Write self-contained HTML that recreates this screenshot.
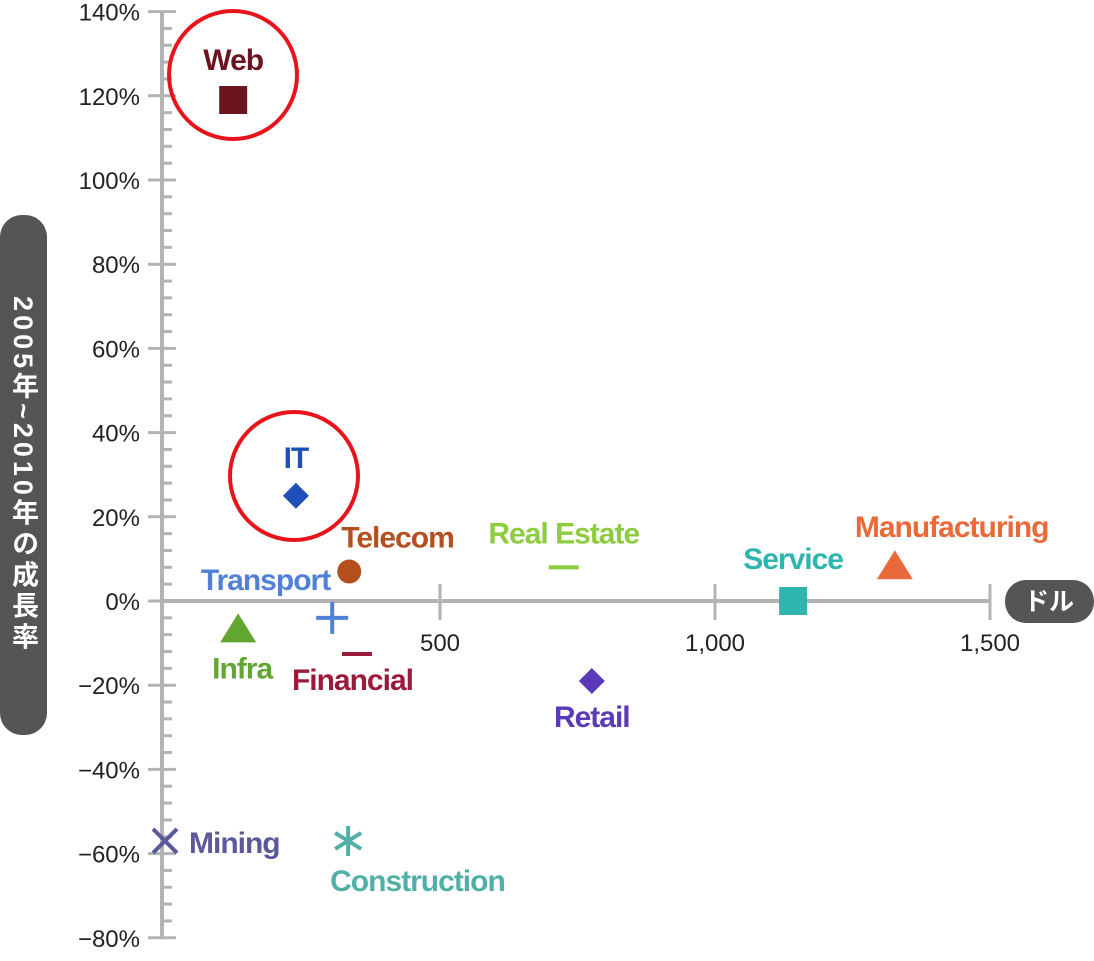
<!DOCTYPE html>
<html><head><meta charset="utf-8"><style>
body{margin:0;background:#fff;}
svg{display:block;font-family:"Liberation Sans","Noto Sans CJK JP",sans-serif;}
</style></head><body>
<svg id="c" width="1094" height="961" viewBox="0 0 1094 961">
<g id="axes"></g>
<g id="marks"></g>
<rect x="0" y="215" width="47" height="520" rx="22" fill="#555"/>
<text x="23" y="475" fill="#fff" font-size="27" font-weight="bold" text-anchor="middle" dominant-baseline="central" writing-mode="tb" letter-spacing="4">2005年~2010年の成長率</text>
<rect x="1005" y="580" width="89" height="43" rx="21" fill="#555"/>
<text x="1049" y="610" fill="#fff" font-size="25" font-weight="bold" text-anchor="middle">ドル</text>
</svg>
<script>
const names=["Web","IT","Telecom","Transport","Financial","Infra","Real Estate","Retail","Service","Manufacturing","Mining","Construction"];
const xs=[124,238,335,304,349,133,725,776,1142,1327,0,333];
const ys=[119,25,7,-4,-12.6,-6.5,8,-19,0,8.5,-57,-57];
const xTicks=[500,1000,1500];
const xTickLabels=["500","1,000","1,500"];
const yTicks=[140,120,100,80,60,40,20,0,-20,-40,-60,-80];
const yTickLabels=["140%","120%","100%","80%","60%","40%","20%","0%","−20%","−40%","−60%","−80%"];
const NS="http://www.w3.org/2000/svg";
const X=v=>165+v*0.55, Y=v=>601-v*4.21;
function el(p,t,a){const e=document.createElementNS(NS,t);for(const k in a)e.setAttribute(k,a[k]);p.appendChild(e);return e;}
const ax=document.getElementById('axes'),mk=document.getElementById('marks');
const G="#b3b3b3";
let l=el(ax,'line',{x1:162,y1:Y(140),x2:162,y2:Y(-80),stroke:G,'stroke-width':4});

l=el(ax,'line',{x1:162,y1:601,x2:990,y2:601,stroke:G,'stroke-width':4});

for(let v=-80;v<=140;v+=4){const major=v%20===0;
 l=el(ax,'line',{x1:major?148:162,x2:major?176:172,y1:Y(v),y2:Y(v),stroke:G,'stroke-width':3});
 }
yTicks.forEach((v,i)=>{const t=el(ax,'text',{x:140,y:Y(v)+9,'text-anchor':'end','font-size':24,fill:'#222'});t.textContent=yTickLabels[i];
 });
xTicks.forEach((v,i)=>{l=el(ax,'line',{x1:X(v),x2:X(v),y1:584,y2:620,stroke:G,'stroke-width':3});
 
 const t=el(ax,'text',{x:X(v),y:651,'text-anchor':'middle','font-size':24,fill:'#222'});t.textContent=xTickLabels[i];
 });
const cols=["#6b1520","#1f4fb8","#b5501e","#5080d8","#9b1a3a","#62a632","#8ccc3e","#5a3ab8","#2fb5b0","#e8693a","#5a5a9a","#50b0a8"];
const shapes=["sq","dia","circ","plus","dash","tri","dash","dia","sq","tri","x","star"];
const lab=[[0,-30,"middle"],[0,-28,"middle"],[-8,-24,"start"],[-2,-28,"end"],[-65,36,"start"],[4,50,"middle"],[0,-24,"middle"],[0,46,"middle"],[0,-32,"middle"],[-40,-28,"start"],[24,12,"start"],[-18,50,"start"]];
names.forEach((n,i)=>{const cx=X(xs[i]),cy=Y(ys[i]),c=cols[i];let m;
 switch(shapes[i]){
 case"sq":m=el(mk,'rect',{x:cx-14,y:cy-14,width:28,height:28,fill:c});break;
 case"dia":m=el(mk,'polygon',{points:`${cx},${cy-13} ${cx+13},${cy} ${cx},${cy+13} ${cx-13},${cy}`,fill:c});break;
 case"circ":m=el(mk,'circle',{cx:cx,cy:cy,r:12,fill:c});break;
 case"plus":m=el(mk,'path',{d:`M${cx-16},${cy}H${cx+16}M${cx},${cy-16}V${cy+16}`,stroke:c,'stroke-width':4});break;
 case"dash":m=el(mk,'path',{d:`M${cx-15},${cy}H${cx+15}`,stroke:c,'stroke-width':4});break;
 case"tri":m=el(mk,'polygon',{points:`${cx},${cy-15} ${cx+18},${cy+14} ${cx-18},${cy+14}`,fill:c});break;
 case"x":m=el(mk,'path',{d:`M${cx-12},${cy-12}L${cx+12},${cy+12}M${cx+12},${cy-12}L${cx-12},${cy+12}`,stroke:c,'stroke-width':4});break;
 case"star":m=el(mk,'path',{d:`M${cx},${cy-15}V${cy+15}M${cx-13},${cy-8}L${cx+13},${cy+8}M${cx+13},${cy-8}L${cx-13},${cy+8}`,stroke:c,'stroke-width':4});break;}
 
 
 const t=el(mk,'text',{x:cx+lab[i][0],y:cy+lab[i][1],'text-anchor':lab[i][2],'font-size':30,'font-weight':'bold',fill:c,'letter-spacing':-1});t.textContent=n;
 
 
});
[[0,233,75],[1,294,476]].forEach(h=>{const c=el(mk,'circle',{cx:h[1],cy:h[2],r:64,fill:'none',stroke:'#e8141c','stroke-width':4});
 });
</script>
</body></html>
